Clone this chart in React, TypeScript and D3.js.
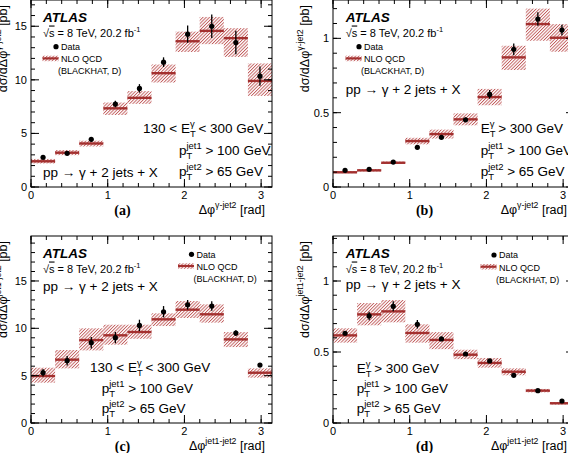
import React from 'react';
import * as d3 from 'd3';

// bin edges in rad (10 bins of pi/10)
const binEdges = [0, 0.3142, 0.6283, 0.9425, 1.2566, 1.5708, 1.885, 2.1991, 2.5133, 2.8274, 3.1416];

// (a) dphi(gamma-jet2), 130 < Et < 300 GeV
const aData = [2.77, 3.14, 4.45, 7.74, 9.2, 11.65, 14.26, 15.0, 13.48, 10.34];
const aErr = [0.15, 0.12, 0.18, 0.3, 0.4, 0.45, 0.8, 1.1, 1.1, 0.9];
const aNlo = [2.4, 3.2, 4.06, 7.34, 8.32, 10.62, 13.6, 14.57, 13.89, 9.9];
const aLo = [2.2, 2.97, 3.78, 6.72, 7.76, 9.75, 12.6, 13.33, 12.14, 8.5];
const aHi = [2.62, 3.45, 4.32, 7.88, 8.95, 11.43, 14.5, 15.87, 14.82, 11.53];

// (b) dphi(gamma-jet2), Et > 300 GeV
const bData = [0.112, 0.119, 0.168, 0.267, 0.334, 0.452, 0.623, 0.926, 1.13, 1.056];
const bErr = [0.005, 0.005, 0.007, 0.01, 0.012, 0.015, 0.03, 0.04, 0.045, 0.035];
const bNlo = [0.099, 0.112, 0.163, 0.309, 0.356, 0.455, 0.605, 0.872, 1.096, 1.004];
const bLo = [0.093, 0.105, 0.155, 0.287, 0.326, 0.415, 0.55, 0.787, 0.984, 0.91];
const bHi = [0.106, 0.12, 0.171, 0.331, 0.386, 0.495, 0.66, 0.95, 1.2, 1.096];

// (c) dphi(jet1-jet2), 130 < Et < 300 GeV
const cData = [5.31, 6.58, 8.48, 9.01, 10.31, 11.75, 12.49, 12.35, 9.5, 6.12];
const cErr = [0.4, 0.5, 0.6, 0.6, 0.6, 0.6, 0.5, 0.5, 0.3, 0.15];
const cNlo = [4.96, 6.69, 8.76, 9.26, 9.61, 10.95, 11.97, 11.48, 8.83, 5.31];
const cLo = [4.26, 5.77, 7.67, 8.27, 8.9, 10.24, 11.09, 10.6, 8.02, 4.79];
const cHi = [5.84, 7.71, 10.0, 10.38, 10.38, 11.58, 12.88, 12.53, 9.6, 5.77];

// (d) dphi(jet1-jet2), Et > 300 GeV
const dData = [0.632, 0.754, 0.822, 0.695, 0.592, 0.486, 0.437, 0.336, 0.228, 0.155];
const dErr = [0.015, 0.03, 0.035, 0.03, 0.015, 0.012, 0.01, 0.01, 0.008, 0.006];
const dNlo = [0.617, 0.765, 0.786, 0.634, 0.585, 0.481, 0.423, 0.361, 0.228, 0.139];
const dLo = [0.566, 0.688, 0.709, 0.566, 0.52, 0.45, 0.39, 0.336, 0.216, 0.13];
const dHi = [0.667, 0.845, 0.866, 0.695, 0.64, 0.516, 0.458, 0.385, 0.24, 0.148];

const xTicks = [0, 1, 2, 3];
const yTicksBig = [0, 5, 10, 15];
const yTicksSmall = [0, 0.5, 1];

const FONT = '"Liberation Sans", Arial, Helvetica, sans-serif';
const RED = '#a3302f';
const HATCH = '#b84545';
const W = 241;
const H = 187;

// Arial advance widths (em) for the script pieces
const adv: Record<string, number> = {
  j: 0.222, e: 0.556, t: 0.278, '1': 0.556, '2': 0.556, T: 0.611, 'γ': 0.5, '-': 0.333,
};
const textW = (s: string, size: number) => s.split('').reduce((a, c) => a + (adv[c] ?? 0.556), 0) * size;

// text with stacked sup/sub like ROOT's p_{T}^{jet1}
const Scripted = ({ pre, sup, sub, post, size = 13.5, ...rest }: any) => {
  const ss = size * 0.7;
  const supW = textW(sup, ss);
  const subW = sub ? textW(sub, ss) : 0;
  return (
    <text fontFamily={FONT} fontSize={size} {...rest}>
      <tspan>{pre}</tspan>
      <tspan fontSize={ss} dy={-size * 0.45}>{sup}</tspan>
      {sub ? <tspan fontSize={ss} dx={-supW} dy={size * 0.75}>{sub}</tspan> : null}
      <tspan dx={sub ? supW - subW : 0} dy={sub ? -size * 0.3 : size * 0.45}>{post}</tspan>
    </text>
  );
};

const Legend = ({ atlasX, ppY, legX, legY }: any) => (
  <g>
    <text x={atlasX} y={21.5} fontFamily={FONT} fontSize={13.5} fontWeight="bold" fontStyle="italic">ATLAS</text>
    <text x={atlasX} y={36.5} fontFamily={FONT} fontSize={11}>
      <tspan>√</tspan><tspan style={{ textDecoration: 'overline' }}>s</tspan>
      <tspan> = 8 TeV, 20.2 fb</tspan>
      <tspan fontSize={7.5} dy={-4.5}>-1</tspan>
    </text>
    <text x={atlasX} y={ppY} fontFamily={FONT} fontSize={13.5}>pp → γ + 2 jets + X</text>
    <circle cx={legX + 13.5} cy={legY} r={2.6} fill="#000" />
    <text x={legX + 18.5} y={legY + 3.3} fontFamily={FONT} fontSize={9}>Data</text>
    <rect x={legX} y={legY + 9} width={16} height={5.5} fill="url(#hatch)" />
    <line x1={legX} x2={legX + 16} y1={legY + 11.7} y2={legY + 11.7} stroke={RED} strokeWidth={2.2} />
    <text x={legX + 18.5} y={legY + 15.5} fontFamily={FONT} fontSize={9}>NLO QCD</text>
    <text x={legX + 15.5} y={legY + 27.5} fontFamily={FONT} fontSize={9}>(BLACKHAT, D)</text>
  </g>
);

const Panel = ({ left, top, ymax, ymajor, yminor, data, err, nlo, lo, hi, varSup, tag, children }: any) => {
  const x = d3.scaleLinear().domain([binEdges[0], binEdges[binEdges.length - 1]]).range([0, W]);
  const y = d3.scaleLinear().domain([0, ymax]).range([H, 0]);
  const xMinor = d3.range(0, 3.15, 0.2);
  const yMinor = d3.range(0, ymax, yminor);
  const bins = d3.range(data.length);
  return (
    <g transform={`translate(${left},${top})`}>
      {bins.map((i: number) => (
        <g key={'n' + i}>
          <rect x={x(binEdges[i])} width={x(binEdges[i + 1]) - x(binEdges[i])}
            y={y(hi[i])} height={y(lo[i]) - y(hi[i])} fill="url(#hatch)" />
          <line x1={x(binEdges[i])} x2={x(binEdges[i + 1])} y1={y(nlo[i])} y2={y(nlo[i])}
            stroke={RED} strokeWidth={2.4} />
        </g>
      ))}
      {bins.map((i: number) => {
        const cx = x((binEdges[i] + binEdges[i + 1]) / 2);
        return (
          <g key={'d' + i}>
            <line x1={cx} x2={cx} y1={y(data[i] - err[i])} y2={y(data[i] + err[i])} stroke="#000" strokeWidth={1.3} />
            <circle cx={cx} cy={y(data[i])} r={2.6} fill="#000" />
          </g>
        );
      })}
      {/* ticks on all four sides */}
      {xMinor.map((v: number) => (
        <g key={'xm' + v} stroke="#000" strokeWidth={1}>
          <line x1={x(v)} x2={x(v)} y1={H} y2={H - 4} />
          <line x1={x(v)} x2={x(v)} y1={0} y2={4} />
        </g>
      ))}
      {xTicks.map((v) => (
        <g key={'xt' + v}>
          <line x1={x(v)} x2={x(v)} y1={H} y2={H - 8} stroke="#000" />
          <line x1={x(v)} x2={x(v)} y1={0} y2={8} stroke="#000" />
          <text x={x(v)} y={H + 11.5} textAnchor="middle" fontFamily={FONT} fontSize={11}>{v}</text>
        </g>
      ))}
      {yMinor.map((v: number) => (
        <g key={'ym' + v} stroke="#000" strokeWidth={1}>
          <line x1={0} x2={4} y1={y(v)} y2={y(v)} />
          <line x1={W} x2={W - 4} y1={y(v)} y2={y(v)} />
        </g>
      ))}
      {ymajor.map((v: number) => (
        <g key={'yt' + v}>
          <line x1={0} x2={8} y1={y(v)} y2={y(v)} stroke="#000" />
          <line x1={W} x2={W - 8} y1={y(v)} y2={y(v)} stroke="#000" />
          <text x={-4} y={y(v) + 4} textAnchor="end" fontFamily={FONT} fontSize={11}>{v}</text>
        </g>
      ))}
      <rect x={0} y={0} width={W} height={H} fill="none" stroke="#000" strokeWidth={1} />
      <Scripted pre="Δφ" sup={varSup} post=" [rad]" size={12.5} x={W - 7} y={H + 27} textAnchor="end" />
      <Scripted pre="dσ/dΔφ" sup={varSup} post=" [pb]" size={12.5}
        transform={`translate(-24,5) rotate(-90)`} textAnchor="end" />
      <text x={91.5} y={H + 28} textAnchor="middle" fontFamily='"Liberation Serif", "Times New Roman", serif'
        fontWeight="bold" fontSize={14}>{tag}</text>
      {children}
    </g>
  );
};

export default function App() {
  return (
    <svg width={568} height={453} style={{ position: 'absolute', left: 0, top: 0, background: '#fff' }}>
      <defs>
        <pattern id="hatch" patternUnits="userSpaceOnUse" width={2.3} height={2.3} patternTransform="rotate(45)">
          <line x1={0.5} y1={0} x2={0.5} y2={2.3} stroke={HATCH} strokeWidth={0.8} />
        </pattern>
      </defs>

      <Panel left={31} top={0} ymax={17.45} ymajor={yTicksBig} yminor={1}
        data={aData} err={aErr} nlo={aNlo} lo={aLo} hi={aHi} varSup="γ-jet2" tag="(a)">
        <Legend atlasX={12} ppY={177} legX={11.5} legY={46.7} />
        <Scripted pre="130 < E" sup="γ" sub="T" post=" < 300 GeV" x={112} y={133} />
        <Scripted pre="p" sup="jet1" sub="T" post=" > 100 GeV" x={148} y={155} />
        <Scripted pre="p" sup="jet2" sub="T" post=" > 65 GeV" x={148} y={176} />
      </Panel>

      <Panel left={333} top={0} ymax={1.258} ymajor={yTicksSmall} yminor={0.1}
        data={bData} err={bErr} nlo={bNlo} lo={bLo} hi={bHi} varSup="γ-jet2" tag="(b)">
        <Legend atlasX={12.7} ppY={94} legX={12.5} legY={46.7} />
        <Scripted pre="E" sup="γ" sub="T" post=" > 300 GeV" x={147.7} y={133} />
        <Scripted pre="p" sup="jet1" sub="T" post=" > 100 GeV" x={147.7} y={155} />
        <Scripted pre="p" sup="jet2" sub="T" post=" > 65 GeV" x={147.7} y={176} />
      </Panel>

      <Panel left={31} top={236} ymax={19.75} ymajor={yTicksBig} yminor={1}
        data={cData} err={cErr} nlo={cNlo} lo={cLo} hi={cHi} varSup="jet1-jet2" tag="(c)">
        <Legend atlasX={12} ppY={55} legX={147} legY={18.3} />
        <Scripted pre="130 < E" sup="γ" sub="T" post=" < 300 GeV" x={59} y={135.7} />
        <Scripted pre="p" sup="jet1" sub="T" post=" > 100 GeV" x={70.7} y={156.7} />
        <Scripted pre="p" sup="jet2" sub="T" post=" > 65 GeV" x={70.7} y={176.7} />
      </Panel>

      <Panel left={333} top={236} ymax={1.317} ymajor={yTicksSmall} yminor={0.1}
        data={dData} err={dErr} nlo={dNlo} lo={dLo} hi={dHi} varSup="jet1-jet2" tag="(d)">
        <Legend atlasX={12.7} ppY={53.3} legX={147.5} legY={19} />
        <Scripted pre="E" sup="γ" sub="T" post=" > 300 GeV" x={23.7} y={136.7} />
        <Scripted pre="p" sup="jet1" sub="T" post=" > 100 GeV" x={23.7} y={156.7} />
        <Scripted pre="p" sup="jet2" sub="T" post=" > 65 GeV" x={23.7} y={176.7} />
      </Panel>
    </svg>
  );
}
